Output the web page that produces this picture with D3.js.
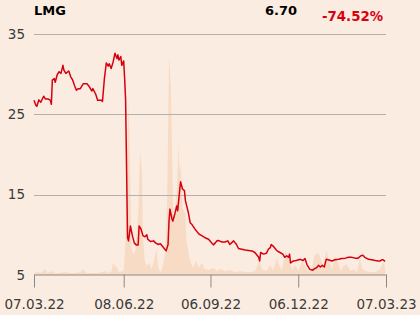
<!DOCTYPE html>
<html>
<head>
<meta charset="utf-8">
<script src="https://cdn.jsdelivr.net/npm/d3@7"></script>
<style>
  html, body { margin: 0; padding: 0; background: #fbece1; }
  svg { display: block; font-family: "DejaVu Sans", sans-serif; }
</style>
</head>
<body>
<svg id="chart" width="420" height="315"></svg>
<script>

// days since 07.03.22 and closing price
const priceDays = [0,2,3,5,7,10,12,15,17,18,19,21,22,24,26,28,30,31,33,36,38,40,42,44,46,48,51,55,57,60,61,64,66,70,71,73,75,77,78,80,82,84,86,87,88,90,91,93,94,95,
  97,98,100,102,104,106,108,109,111,113,115,117,118,121,124,126,129,131,133,135,137,139,140,141,143,144,146,148,149,151,152,154,156,157,160,162,164,167,169,171,174,176,178,181,183,186,188,190,192,195,
  198,201,203,207,210,212,219,226,229,233,234,235,238,241,243,245,246,248,250,252,255,258,260,262,264,265,266,269,272,276,279,281,283,286,289,291,293,295,297,299,301,303,305,309,312,316,319,323,326,329,
  333,336,339,341,343,347,350,354,357,359,361,362,364];
const prices = [26.75,26.1,26.0,26.8,26.5,27.25,26.9,26.9,26.75,26.25,29.25,29.45,29.0,29.9,30.3,30.1,31.1,30.5,30.1,30.4,29.7,29.3,28.6,28.0,28.2,28.2,28.8,28.8,28.5,27.9,28.2,27.5,26.75,26.75,26.6,29.45,31.4,31.0,31.3,30.7,31.5,32.6,31.95,32.4,31.75,32.2,31.1,31.65,29.45,26.75,
  9.66,9.25,11.1,9.9,9.0,8.75,8.75,11.1,10.7,9.9,9.75,10.0,9.45,9.16,9.25,9.0,8.8,8.9,8.6,8.3,8.0,8.8,11.75,13.2,12.0,11.7,12.6,13.6,13.0,15.5,16.6,15.7,15.5,14.25,12.8,11.5,11.25,10.7,10.4,10.1,9.9,9.75,9.6,9.45,9.16,8.75,9.0,9.3,9.25,9.1,
  9.1,9.25,8.8,9.25,8.8,8.3,8.1,8.0,7.8,7.2,6.75,7.8,7.6,7.7,8.2,8.4,8.8,8.6,8.3,8.0,7.8,7.6,7.2,7.4,7.2,7.6,6.5,6.75,6.8,6.95,6.8,7.05,6.3,5.7,5.6,5.8,5.9,6.2,6.0,6.2,6.0,6.95,6.9,6.75,6.9,6.95,7.05,7.1,7.2,7.2,
  7.1,7.1,7.4,7.45,7.2,6.95,6.9,6.8,6.75,6.75,6.9,6.9,6.7];

// traded volume (relative units), days since 07.03.22
const volDays = [0,4,8,11,14,18,22,27,32,37,42,48,51,54,60,66,74,77,80,82,86,88,93,95,98,100,101,103,105,106,108,110,112,113,115,117,120,122,125,127,129,132,136,138,140,142,144,145,148,150,
  151,152,154,157,158,160,162,165,168,171,174,177,181,186,190,193,198,203,208,214,219,224,229,234,236,241,245,248,252,254,257,261,264,268,271,274,278,281,285,288,291,295,297,300,303,306,309,312,315,318,
  321,324,328,331,335,338,340,343,348,354,359,363,364];
const volumes = [2,3,2,6,2,4,2,2,3,2,2,3,6,2,2,2,4,2,3,12,7,3,4,37,176,87,27,21,24,34,61,123,104,37,14,9,12,6,17,27,6,3,21,71,218,187,77,54,81,132,
  104,111,67,61,34,24,14,7,14,7,12,6,5,7,4,6,4,5,3,4,3,3,4,14,6,4,10,5,17,10,5,24,16,5,10,4,14,9,4,6,20,22,17,6,25,14,5,19,13,4,
  9,11,4,6,3,17,7,4,3,3,6,14,5];

const yTicks = [5, 15, 25, 35];
const xTickDates = ["2022-03-07", "2022-06-08", "2022-09-06", "2022-12-06", "2023-03-07"];
const symbol = "LMG";
const lastPrice = "6.70";
const change = "-74.52%";

const parse = d3.timeParse("%Y-%m-%d");
const start = parse("2022-03-07");
const end = parse("2023-03-07");

const priceData = priceDays.map((d, i) => ({date: d3.timeDay.offset(start, d), v: prices[i]}));
const volData = volDays.map((d, i) => ({date: d3.timeDay.offset(start, d), v: volumes[i]}));

const svg = d3.select("#chart");
const plotLeft = 34, plotRight = 386, plotTop = 34, plotBottom = 275;

const x = d3.scaleTime().domain([start, end]).range([plotLeft, plotRight]);
const y = d3.scaleLinear().domain([5, 35]).range([plotBottom, plotTop]);
const yVol = d3.scaleLinear().domain([0, 240]).range([plotBottom, plotBottom - 240]);

// volume area
svg.append("path")
    .datum(volData)
    .attr("fill", "#f8dbc4")
    .attr("d", d3.area()
        .x(d => x(d.date))
        .y0(plotBottom)
        .y1(d => yVol(d.v)));

// grid lines
svg.append("g")
    .selectAll("line")
    .data(yTicks.filter(t => t > 5))
    .enter().append("line")
        .attr("x1", plotLeft)
        .attr("x2", plotRight)
        .attr("y1", d => Math.round(y(d)) + 0.5)
        .attr("y2", d => Math.round(y(d)) + 0.5)
        .attr("stroke", "#b4b0ac")
        .attr("stroke-width", 1);

// y labels
svg.append("g")
    .selectAll("text")
    .data(yTicks)
    .enter().append("text")
        .attr("x", 25)
        .attr("y", d => y(d) + 4.5)
        .attr("text-anchor", "end")
        .attr("font-size", "13.5px")
        .attr("fill", "#3a3a3a")
        .text(d => d);

// x axis
const xAxis = d3.axisBottom(x)
    .tickValues(xTickDates.map(parse))
    .tickFormat(d3.timeFormat("%d.%m.%y"))
    .tickSize(13)
    .tickSizeOuter(0)
    .tickPadding(12);

const gx = svg.append("g")
    .attr("transform", "translate(0," + (plotBottom - 0.5) + ")")
    .call(xAxis);
gx.select(".domain").attr("stroke", "#8a8a8a");
gx.selectAll(".tick line").attr("stroke", "#8a8a8a");
gx.selectAll(".tick text")
    .attr("font-size", "13.5px")
    .attr("font-family", "DejaVu Sans, sans-serif")
    .attr("fill", "#3a3a3a");

// price line
svg.append("path")
    .datum(priceData)
    .attr("fill", "none")
    .attr("stroke", "#d7000f")
    .attr("stroke-width", 1.5)
    .attr("stroke-linejoin", "round")
    .attr("d", d3.line()
        .x(d => x(d.date))
        .y(d => y(d.v)));

// header
svg.append("text")
    .attr("x", 34).attr("y", 15)
    .attr("font-size", "13px").attr("font-weight", "bold")
    .attr("fill", "#000")
    .text(symbol);

svg.append("text")
    .attr("x", 297).attr("y", 14.5)
    .attr("text-anchor", "end")
    .attr("font-size", "13px").attr("font-weight", "bold")
    .attr("fill", "#000")
    .text(lastPrice);

svg.append("text")
    .attr("x", 383).attr("y", 21)
    .attr("text-anchor", "end")
    .attr("font-size", "13.3px").attr("font-weight", "bold")
    .attr("fill", "#d7000f")
    .text(change);

</script>
</body>
</html>
